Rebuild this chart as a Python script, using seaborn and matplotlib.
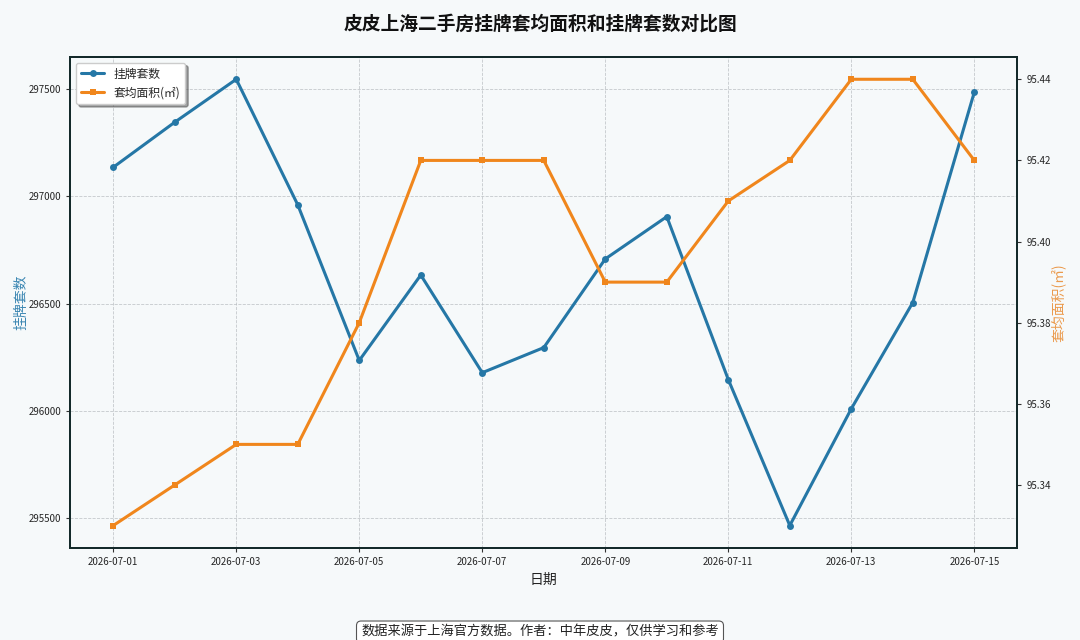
import numpy as np
import pandas as pd
import matplotlib
matplotlib.use('Agg')
import matplotlib.pyplot as plt
import matplotlib.dates as mdates
import seaborn as sns

dates = pd.date_range('2026-07-01', '2026-07-15', freq='D')
listing_counts = [297135, 297345, 297545, 296960, 296235, 296633, 296178, 296295,
                  296708, 296905, 296146, 295466, 296010, 296505, 297485]
avg_area = [95.33, 95.34, 95.35, 95.35, 95.38, 95.42, 95.42, 95.42,
            95.39, 95.39, 95.41, 95.42, 95.44, 95.44, 95.42]

blue = '#2577a6'
orange = '#f0861c'
bg = '#f6f9fa'

sns.set_theme(style='white')
plt.rcParams['font.family'] = ['Noto Sans CJK SC', 'DejaVu Sans']
plt.rcParams['axes.unicode_minus'] = False

df = pd.DataFrame({'date': dates, 'count': listing_counts, 'area': avg_area})

fig, ax = plt.subplots(figsize=(10.8, 6.4), dpi=100)
fig.patch.set_facecolor(bg)
ax.set_facecolor(bg)
fig.subplots_adjust(left=0.065, right=0.942, top=0.911, bottom=0.144)

sns.lineplot(data=df, x='date', y='count', ax=ax, color=blue, marker='o',
             markersize=5, markeredgewidth=0, linewidth=2.2, label='挂牌套数', legend=False)
ax2 = ax.twinx()
sns.lineplot(data=df, x='date', y='area', ax=ax2, color=orange, marker='s',
             markersize=5, markeredgewidth=0, linewidth=2.2, label='套均面积(㎡)', legend=False)

ax.set_xticks(dates[::2])
ax.xaxis.set_major_formatter(mdates.DateFormatter('%Y-%m-%d'))
ax.set_yticks([295500, 296000, 296500, 297000, 297500])
ax2.set_yticks([95.34, 95.36, 95.38, 95.40, 95.42, 95.44])
ax2.yaxis.set_major_formatter(matplotlib.ticker.FormatStrFormatter('%.2f'))

ax.grid(True, linestyle='--', color='#b8bcc0', linewidth=0.6, alpha=0.8)
ax2.grid(False)
ax.tick_params(axis='both', labelsize=7, length=3, width=0.8, color='#333333',
               direction='out', left=True, bottom=True)
ax2.tick_params(axis='y', labelsize=7, length=3, width=0.8, color='#333333',
                direction='out', right=True, left=False)
for a in (ax, ax2):
    for s in a.spines.values():
        s.set_color('#142a2a')
        s.set_linewidth(1.4)

ax.set_xlabel('日期', fontsize=10, color='#222222', labelpad=4)
ax.set_ylabel('挂牌套数', fontsize=10, color='#3a86b2', labelpad=0)
ax2.set_ylabel('套均面积(㎡)', fontsize=10, color='#eb9a4c', labelpad=0)

fig.suptitle('皮皮上海二手房挂牌套均面积和挂牌套数对比图', fontsize=13.5,
             fontweight='bold', color='#111111', y=0.978)

h1, l1 = ax.get_legend_handles_labels()
h2, l2 = ax2.get_legend_handles_labels()
leg = ax.legend(h1 + h2, l1 + l2, loc='upper left', fontsize=8.5, frameon=True,
                fancybox=True, shadow=True, facecolor='white', edgecolor='#cccccc',
                framealpha=1)

fig.text(0.5, 0.002, '数据来源于上海官方数据。作者：中年皮皮，仅供学习和参考', ha='center',
         va='bottom', fontsize=9.5, color='#222222',
         bbox=dict(boxstyle='round,pad=0.35', facecolor='white', edgecolor='#555555',
                   linewidth=0.8))

fig.savefig('out.png', dpi=100, facecolor=fig.get_facecolor())
